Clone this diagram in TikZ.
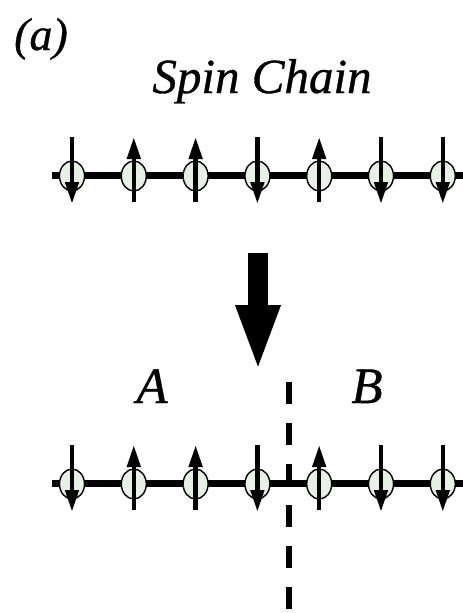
\documentclass[tikz,border=0pt]{standalone}
\usepackage{fontspec}
\setmainfont{Liberation Serif}
\newfontfamily\lblfont{Liberation Serif}[ItalicFeatures={FakeBold=0.7}]
\usepackage{xcolor}
\usepackage{tikz}
\usetikzlibrary{arrows.meta,positioning,calc,shapes.geometric}
\definecolor{inkK}{HTML}{000000}
\definecolor{lSite}{HTML}{E6F0E4}

\begin{document}
\begin{tikzpicture}[x=1pt,y=-1pt,
  site/.style={ellipse, draw=inkK, line width=1.4pt, fill=lSite,
               minimum width=25pt, minimum height=30pt, inner sep=0pt},
  bond/.style={draw=inkK, line width=7pt},
  spinarr/.style={draw=inkK, line width=4.5pt,
                  -{Triangle[width=13pt,length=22pt]}},
  lbl/.style={font=\lblfont\itshape\fontsize{49}{59}\selectfont, text=inkK,
              inner sep=0pt, anchor=base}]
  \useasboundingbox[fill=white] (0,0) rectangle (463,613);

  % labels
  \node[lbl, font=\lblfont\itshape\fontsize{46}{56}\selectfont] (tag) at (41,50) {(a)};
  \node[lbl] (title) at (262,93) {Spin Chain};
  \node[lbl, font=\lblfont\itshape\fontsize{51}{61}\selectfont] (labA) at (152,403) {A};
  \node[lbl, font=\lblfont\itshape\fontsize{51}{61}\selectfont] (labB) at (367,403) {B};

  % bonds
  \coordinate (tL) at (52,175);
  \coordinate (tR) at (470,175);
  \coordinate (bL) at (52,483);
  \coordinate (bR) at (470,483);
  \draw[bond] (tL) -- (tR);
  \draw[bond] (bL) -- (bR);

  % cut between A and B
  \coordinate (cutTop) at (289,382);
  \coordinate (cutBot) at (289,609);
  \draw[inkK, line width=6pt, dash pattern=on 22pt off 19pt] (cutTop) -- (cutBot);

  % sites
  \foreach \i in {1,...,7} {
    \node[site] (t\i) at ({72+61.8*(\i-1)},176) {};
    \node[site] (b\i) at ($(t\i)+(0,308)$) {};
  }

  % spins
  \foreach \i in {1,4,6,7} {
    \draw[spinarr] ($(t\i)+(0,-39)$) -- ($(t\i)+(0,28)$);
    \draw[spinarr] ($(b\i)+(0,-39)$) -- ($(b\i)+(0,28)$);
  }
  \foreach \i in {2,3,5} {
    \draw[spinarr] ($(t\i)+(0,26)$) -- ($(t\i)+(0,-39)$);
    \draw[spinarr] ($(b\i)+(0,26)$) -- ($(b\i)+(0,-39)$);
  }

  % big arrow
  \coordinate (arrTop) at (258,253);
  \coordinate (arrTip) at (258,372);
  \draw[inkK, line width=20pt, -{Triangle[width=40pt,length=67pt]}] (arrTop) -- (arrTip);
\end{tikzpicture}
\end{document}
